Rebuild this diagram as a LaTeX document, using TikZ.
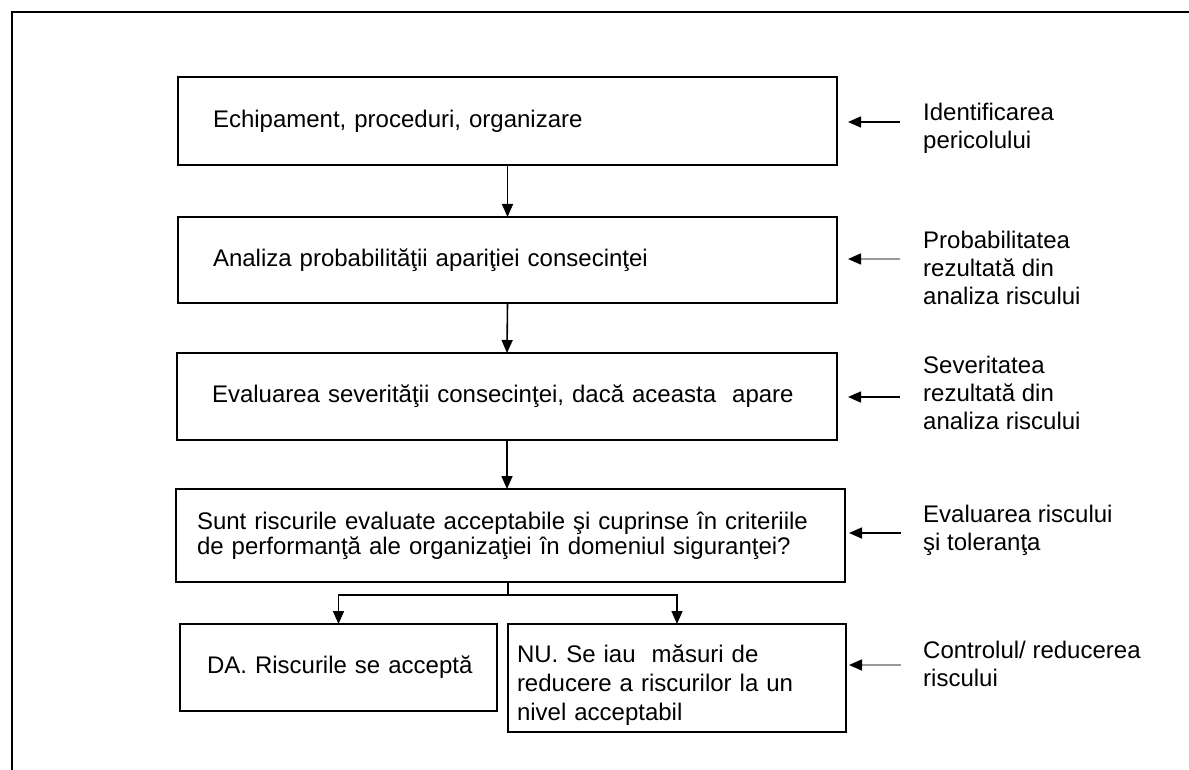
\documentclass[tikz,border=0pt]{standalone}
\usepackage{fontspec}
\setmainfont{Liberation Sans}
\usetikzlibrary{arrows.meta}
\begin{document}
\begin{tikzpicture}[x=1pt,y=-1pt,
  box/.style={draw, line width=2.2pt, anchor=north west, align=left, outer sep=0pt, inner ysep=0pt,
    font=\fontsize{24}{28}\selectfont},
  flow/.style={line width=1.6pt, -{Triangle[length=13pt,width=11pt]}},
  sideflow/.style={line width=1.6pt, shorten >=11pt, -{Triangle[length=13pt,width=11pt]}},
  grayflow/.style={sideflow, draw=black!40, -{Triangle[length=13pt,width=11pt,color=black]}},
  side/.style={anchor=west, align=left, inner sep=0pt, font=\fontsize{24}{28}\selectfont},
  frameline/.style={line width=2.2pt}
]
\useasboundingbox (0,0) rectangle (1189,770);

% frame (top and left edges visible)
\coordinate (fTL) at (12,12);
\coordinate (fTR) at (1189,12);
\coordinate (fBL) at (12,770);
\draw[frameline] (fTR) -- (fTL) -- (fBL);

% main boxes
\node[box, minimum width=659, minimum height=88, inner xsep=35, text width=589] (b1) at (178,77)
  {\mbox{Echipament, proceduri, organizare}};
\node[box, minimum width=659, minimum height=86, inner xsep=35, text width=589] (b2) at (178,217)
  {\mbox{Analiza probabilităţii apariţiei consecinţei}};
\node[box, minimum width=660, minimum height=87, inner xsep=35, text width=590] (b3) at (177,353)
  {\mbox{Evaluarea severităţii consecinţei, dacă aceasta\ \ apare}};
\node[box, minimum width=669, minimum height=93, inner xsep=21, text width=627,
  font=\fontsize{24}{25}\selectfont] (b4) at (176,489)
  {\mbox{Sunt riscurile evaluate acceptabile şi cuprinse în criteriile}\\
   \mbox{de performanţă ale organizaţiei în domeniul siguranţei?}\\[8pt]};
\node[box, minimum width=317, minimum height=87, inner xsep=27, text width=263] (da) at (180,624)
  {\mbox{DA. Riscurile se acceptă}};
\node[box, minimum width=338, minimum height=108, inner xsep=9, text width=320,
  font=\fontsize{24}{29}\selectfont] (nu) at (508,624)
  {\rule{0pt}{32pt}\mbox{NU. Se iau\ \ măsuri de}\\ \mbox{reducere a riscurilor la un}\\ \mbox{nivel acceptabil}};

% vertical flow
\draw[flow] (b1.south) -- (b2.north);
\draw[flow] (b2.south) -- (b3.north);
\draw[flow] (b3.south) -- (b3.south |- b4.north);
\coordinate (j) at (508,595);
\draw[line width=1.6pt] (j |- b4.south) -- (j);
\draw[flow] (j) -| (da.north);
\draw[flow] (j) -| (nu.north);

% side labels
\node[side] (l1) at (923,128) {Identificarea\\pericolului};
\node[side] (l2) at (923,268) {Probabilitatea\\rezultată din\\analiza riscului};
\node[side] (l3) at (923,393) {Severitatea\\rezultată din\\analiza riscului};
\node[side] (l4) at (923,530) {Evaluarea riscului\\şi toleranţa};
\node[side] (l5) at (923,664) {Controlul/ reducerea\\riscului};

% side arrows
\coordinate (a1) at (900,122);
\coordinate (a2) at (900,259);
\coordinate (a3) at (900,397);
\coordinate (a4) at (901,533);
\coordinate (a5) at (901,665);
\draw[sideflow] (a1) -- (a1 -| b1.east);
\draw[grayflow] (a2) -- (a2 -| b2.east);
\draw[sideflow] (a3) -- (a3 -| b3.east);
\draw[sideflow, shorten >=4pt] (a4) -- (a4 -| b4.east);
\draw[grayflow, shorten >=3pt] (a5) -- (a5 -| nu.east);
\end{tikzpicture}
\end{document}
